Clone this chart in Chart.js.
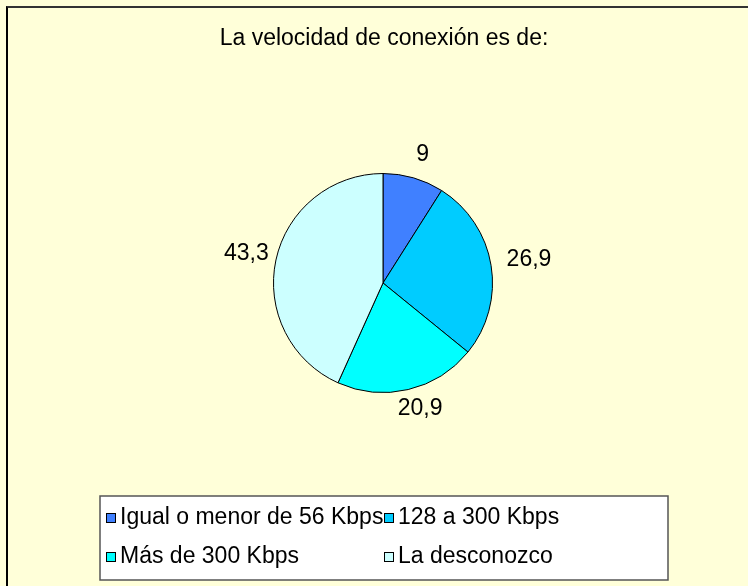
<!DOCTYPE html>
<html>
<head>
<meta charset="utf-8">
<script src="https://cdn.jsdelivr.net/npm/chart.js@4.4.0/dist/chart.umd.min.js"></script>
<style>
  html,body{margin:0;padding:0;background:#ffffd9;}
  #wrap{position:absolute;left:0;top:0;width:748px;height:586px;overflow:hidden;}
  #frame{position:absolute;left:6px;top:6px;width:760px;height:600px;border-top:2px solid #333;border-left:2px solid #000;}
  canvas{position:absolute;left:0;top:0;}
</style>
</head>
<body>
<div id="wrap">
  <div id="frame"></div>
  <canvas id="chart" width="748" height="586"></canvas>
</div>
<script>
const titleText = "La velocidad de conexión es de:";
const categories = ["Igual o menor de 56 Kbps", "128 a 300 Kbps", "Más de 300 Kbps", "La desconozco"];
const values = [9, 26.9, 20.9, 43.3];
const sliceColors = ["#4080ff", "#00ccff", "#00ffff", "#ccffff"];

const FONT = "Liberation Sans, Arial, sans-serif";
const fmt = v => String(v).replace(".", ",");

/* ---------- TITLE + VALUE LABELS + LEGEND ---------- */
const extras = {
  id: "extras",
  afterDraw(chart){
    const ctx = chart.ctx;
    ctx.save();
    ctx.fillStyle = "#000";
    ctx.font = "23px " + FONT;
    ctx.textAlign = "center";
    ctx.textBaseline = "middle";
    ctx.fillText(titleText, 384, 39);

    // value labels outside slices
    const arcs = chart.getDatasetMeta(0).data;
    arcs.forEach((arc, i) => {
      const mid = (arc.startAngle + arc.endAngle) / 2;
      const r = arc.outerRadius + 12;
      const ax = arc.x + Math.cos(mid) * r + 4;
      const ay = arc.y + Math.sin(mid) * r - 2;
      const txt = fmt(values[i]);
      const w = ctx.measureText(txt).width, h = 20;
      ctx.fillText(txt, ax + Math.cos(mid) * w / 2, ay + Math.sin(mid) * h / 2);
    });

    // legend box
    const bx = 100, by = 496, bw = 568, bh = 84;
    ctx.fillStyle = "#fff";
    ctx.fillRect(bx, by, bw, bh);
    ctx.strokeStyle = "#555";
    ctx.lineWidth = 1.5;
    ctx.strokeRect(bx, by, bw, bh);
    ctx.lineWidth = 1;
    ctx.font = "23px " + FONT;
    ctx.textAlign = "left";
    categories.forEach((c, i) => {
      const col = i % 2, row = Math.floor(i / 2);
      const x = bx + 6 + col * 278, y = by + 21 + row * 39;
      ctx.fillStyle = sliceColors[i];
      ctx.fillRect(x, y - 4, 9, 9);
      ctx.strokeStyle = "#000";
      ctx.strokeRect(x + 0.5, y - 3.5, 9, 9);
      ctx.fillStyle = "#000";
      ctx.fillText(c, x + 14, y + 1);
    });
    ctx.restore();
  }
};

new Chart(document.getElementById("chart"), {
  type: "pie",
  data: {
    labels: categories,
    datasets: [{
      data: values,
      backgroundColor: sliceColors,
      borderColor: "#000",
      borderWidth: 1
    }]
  },
  options: {
    responsive: false,
    animation: false,
    layout: { padding: { left: 273, right: 255, top: 173, bottom: 193 } },
    plugins: { legend: { display: false }, tooltip: { enabled: false }, title: { display: false } }
  },
  plugins: [extras]
});
</script>
</body>
</html>
